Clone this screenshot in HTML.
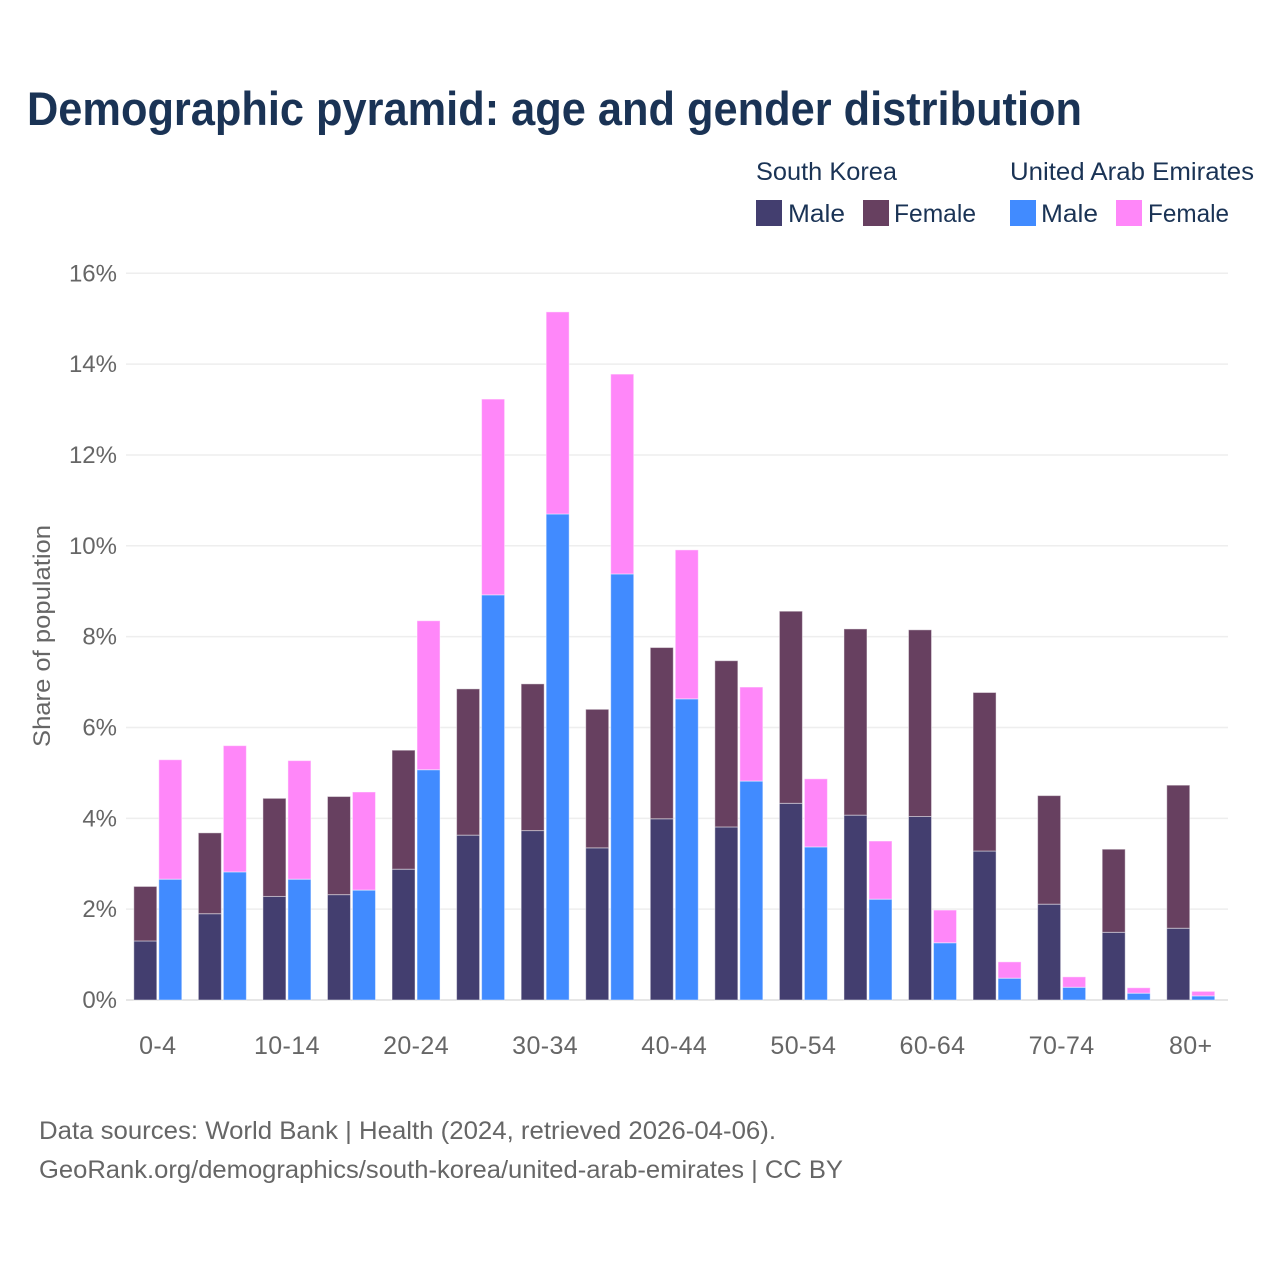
<!DOCTYPE html>
<html lang="en">
<head>
<meta charset="utf-8">
<title>Demographic pyramid: age and gender distribution</title>
<style>
  html, body { margin: 0; padding: 0; background: #fff; }
  svg { display: block; font-family: "Liberation Sans", "DejaVu Sans", sans-serif; }
</style>
</head>
<body>
<svg id="chart" width="1280" height="1280" viewBox="0 0 1280 1280" xmlns="http://www.w3.org/2000/svg">
  <rect x="0" y="0" width="1280" height="1280" fill="#ffffff"/>
  <text x="27" y="125" font-size="47" font-weight="700" fill="#1a3355" textLength="1055" lengthAdjust="spacingAndGlyphs">Demographic pyramid: age and gender distribution</text>

  <g font-size="25" fill="#1a3355">
    <text x="756" y="180" textLength="141" lengthAdjust="spacingAndGlyphs">South Korea</text>
    <text x="1010" y="180" textLength="244" lengthAdjust="spacingAndGlyphs">United Arab Emirates</text>
    <rect x="756" y="200" width="26" height="26" fill="#433e6f"/>
    <text x="788" y="222" textLength="57" lengthAdjust="spacingAndGlyphs">Male</text>
    <rect x="863" y="200" width="26" height="26" fill="#674060"/>
    <text x="894" y="222" textLength="82" lengthAdjust="spacingAndGlyphs">Female</text>
    <rect x="1010" y="200" width="26" height="26" fill="#418bff"/>
    <text x="1041" y="222" textLength="57" lengthAdjust="spacingAndGlyphs">Male</text>
    <rect x="1116" y="200" width="26" height="26" fill="#ff87f9"/>
    <text x="1148" y="222" textLength="81" lengthAdjust="spacingAndGlyphs">Female</text>
  </g>

  <g id="grid-layer"></g>
  <g id="bar-layer"></g>
  <g id="x-label-layer"></g>

  <text transform="translate(50,636) rotate(-90)" text-anchor="middle" font-size="24" fill="#666666" textLength="222" lengthAdjust="spacingAndGlyphs">Share of population</text>

  <text x="39" y="1139" font-size="25" fill="#666666" textLength="737" lengthAdjust="spacingAndGlyphs">Data sources: World Bank | Health (2024, retrieved 2026-04-06).</text>
  <text x="39" y="1178" font-size="25" fill="#666666" textLength="804" lengthAdjust="spacingAndGlyphs">GeoRank.org/demographics/south-korea/united-arab-emirates | CC BY</text>
</svg>

<script>
const categories = ['0-4','5-9','10-14','15-19','20-24','25-29','30-34','35-39','40-44','45-49','50-54','55-59','60-64','65-69','70-74','75-79','80+'];
const xTickLabels = ['0-4','10-14','20-24','30-34','40-44','50-54','60-64','70-74','80+'];
const yTicks = [0, 2, 4, 6, 8, 10, 12, 14, 16];
const koreaMale = [1.30, 1.90, 2.28, 2.32, 2.88, 3.63, 3.73, 3.35, 3.99, 3.81, 4.33, 4.07, 4.04, 3.28, 2.11, 1.49, 1.58];
const koreaFemale = [1.20, 1.78, 2.16, 2.16, 2.62, 3.22, 3.23, 3.05, 3.77, 3.66, 4.23, 4.10, 4.11, 3.49, 2.39, 1.83, 3.15];
const uaeMale = [2.66, 2.82, 2.66, 2.42, 5.07, 8.92, 10.70, 9.38, 6.63, 4.82, 3.37, 2.22, 1.26, 0.48, 0.28, 0.15, 0.09];
const uaeFemale = [2.63, 2.78, 2.61, 2.16, 3.28, 4.31, 4.45, 4.40, 3.28, 2.07, 1.50, 1.28, 0.72, 0.36, 0.23, 0.12, 0.10];

const NS = 'http://www.w3.org/2000/svg';
const plotLeft = 126;
const plotRight = 1228;
const baseY = 1000;
const pxPerPercent = 45.42;
const firstCenter = 157.8;
const groupStep = 64.56;
const barWidth = 23;
const barGap = 2;

function yScale(v) { return baseY - v * pxPerPercent; }
function xCenter(i) { return firstCenter + i * groupStep; }

const gridLayer = document.getElementById('grid-layer');
yTicks.forEach(function (t) {
  const line = document.createElementNS(NS, 'line');
  
  
  line.setAttribute('x1', plotLeft);
  line.setAttribute('x2', plotRight);
  line.setAttribute('y1', yScale(t));
  line.setAttribute('y2', yScale(t));
  line.setAttribute('stroke', t === 0 ? '#e6e6e6' : '#eeeeee');
  line.setAttribute('stroke-width', t === 0 ? 2 : 1.5);
  gridLayer.appendChild(line);

  const label = document.createElementNS(NS, 'text');
  
  
  label.setAttribute('x', 117);
  label.setAttribute('y', yScale(t) + 8);
  label.setAttribute('text-anchor', 'end');
  label.setAttribute('font-size', '24');
  label.setAttribute('fill', '#666666');
  label.textContent = t + '%';
  gridLayer.appendChild(label);
});

const barLayer = document.getElementById('bar-layer');
function addBar(x, v0, v1, fill, name) {
  const r = document.createElementNS(NS, 'rect');
  
  
  r.setAttribute('x', x);
  r.setAttribute('y', yScale(v1));
  r.setAttribute('width', barWidth);
  r.setAttribute('height', Math.max(0, yScale(v0) - yScale(v1)));
  r.setAttribute('fill', fill);
  r.setAttribute('stroke', '#ffffff');
  r.setAttribute('stroke-opacity', '0.45');
  r.setAttribute('stroke-width', '1');
  barLayer.appendChild(r);
}
categories.forEach(function (c, i) {
  const krX = xCenter(i) - barGap / 2 - barWidth;
  const uaeX = xCenter(i) + barGap / 2;
  addBar(krX, 0, koreaMale[i], '#433e6f', 'bar-south-korea-male');
  addBar(krX, koreaMale[i], koreaMale[i] + koreaFemale[i], '#674060', 'bar-south-korea-female');
  addBar(uaeX, 0, uaeMale[i], '#418bff', 'bar-uae-male');
  addBar(uaeX, uaeMale[i], uaeMale[i] + uaeFemale[i], '#ff87f9', 'bar-uae-female');
});

const xLabelLayer = document.getElementById('x-label-layer');
xTickLabels.forEach(function (lab) {
  const t = document.createElementNS(NS, 'text');
  
  
  t.setAttribute('x', xCenter(categories.indexOf(lab)));
  t.setAttribute('y', 1054);
  t.setAttribute('text-anchor', 'middle');
  t.setAttribute('font-size', '25');
  t.setAttribute('letter-spacing', '0.4');
  t.setAttribute('fill', '#666666');
  t.textContent = lab;
  xLabelLayer.appendChild(t);
});
</script>
</body>
</html>
